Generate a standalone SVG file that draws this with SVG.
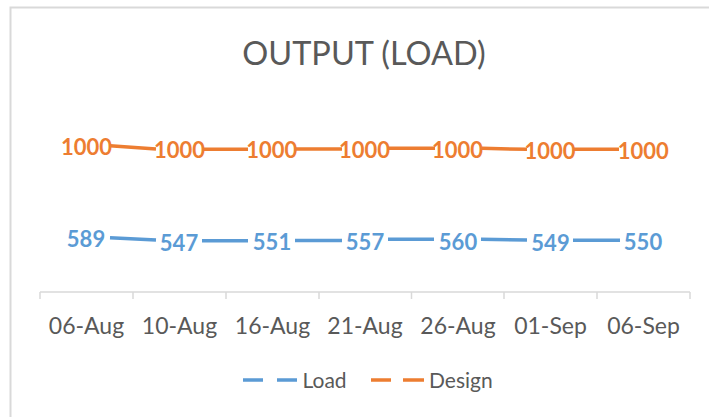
<svg xmlns="http://www.w3.org/2000/svg" width="709" height="417" viewBox="0 0 709 417">
<style>
.title{font-family:Lato,"Open Sans",sans-serif;font-size:32.5px;fill:#595959;text-anchor:middle}
.ax{font-family:Lato,"Open Sans",sans-serif;font-size:23px;fill:#595959;text-anchor:middle}
.lg{font-family:Lato,"Open Sans",sans-serif;font-size:21px;fill:#595959}
.dl{font-family:Lato,"Open Sans",sans-serif;font-size:22px;font-weight:bold;text-anchor:middle}
.des{fill:#ED7D31}
.lod{fill:#5B9BD5}
.grid{stroke:#D9D9D9;stroke-width:1.5;fill:none}
.ld{stroke:#5B9BD5;stroke-width:3.5;fill:none}
.dd{stroke:#ED7D31;stroke-width:3.5;fill:none}
</style>
<rect x="0" y="0" width="709" height="417" fill="#FFFFFF"/>
<rect x="10.5" y="7.5" width="730" height="430" fill="#FFFFFF" stroke="#D9D9D9" stroke-width="2"/>
<text class="title" x="364" y="65">OUTPUT (LOAD)</text>
<g id="axis">
<path class="grid" d="M40,292 H690 M40,292 V299 M133,292 V299 M226,292 V299 M319,292 V299 M411.5,292 V299 M504,292 V299 M597,292 V299 M690,292 V299"/>
<text class="ax" x="86.5" y="333.5">06-Aug</text>
<text class="ax" x="179.5" y="333.5">10-Aug</text>
<text class="ax" x="272.5" y="333.5">16-Aug</text>
<text class="ax" x="365" y="333.5">21-Aug</text>
<text class="ax" x="458" y="333.5">26-Aug</text>
<text class="ax" x="550.5" y="333.5">01-Sep</text>
<text class="ax" x="643.5" y="333.5">06-Sep</text>
</g>
<g id="connectors">
<path class="dd" d="M110,145.7 L156,149 M202,149.3 L248,149.3 M295,149 L342,149 M388,148.3 L435,148.3 M482,148.3 L527,149.3 M574,149.3 L619,149.3"/>
<path class="ld" d="M110,237.7 L156,240 M202,240.7 L248,240.7 M295,240.5 L342,240.5 M388,239.3 L434,239.3 M481,239.3 L527,240 M573,240.3 L620,240.3"/>
</g>
<g id="design-labels">
<text class="dl des" x="86.5" y="155">1000</text>
<text class="dl des" x="179.5" y="158.3">1000</text>
<text class="dl des" x="271.7" y="158.3">1000</text>
<text class="dl des" x="364.5" y="158.3">1000</text>
<text class="dl des" x="457.5" y="158">1000</text>
<text class="dl des" x="550" y="158.5">1000</text>
<text class="dl des" x="643.3" y="158.5">1000</text>
</g>
<g id="load-labels">
<text class="dl lod" x="86" y="246.7">589</text>
<text class="dl lod" x="179" y="250.7">547</text>
<text class="dl lod" x="272" y="250">551</text>
<text class="dl lod" x="365" y="250">557</text>
<text class="dl lod" x="458" y="250">560</text>
<text class="dl lod" x="550.5" y="250.7">549</text>
<text class="dl lod" x="643" y="250">550</text>
</g>
<g id="legend">
<path class="ld" d="M243,380 H263 M277,380 H297"/>
<text class="lg" x="302.5" y="387.5">Load</text>
<path class="dd" d="M371,380 H391 M403,380 H424"/>
<text class="lg" x="429" y="387.5">Design</text>
</g>
</svg>
